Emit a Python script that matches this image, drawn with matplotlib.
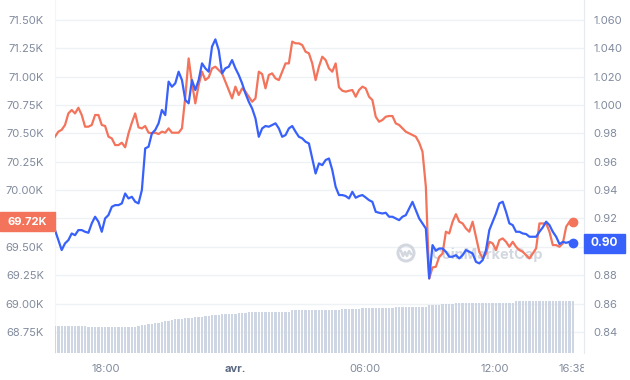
import matplotlib
matplotlib.use('Agg')
import numpy as np
import pandas as pd
import matplotlib.pyplot as plt
from matplotlib.patches import Rectangle, Ellipse

plt.rcParams['font.family'] = ['Inter', 'DejaVu Sans']

# ---- data (24h) ----
t_start = '2024-03-31 15:38'
t_end = '2024-04-01 15:38'

# price, left axis (USD)
price = [
    70471, 70515, 70532, 70574, 70676, 70706, 70676, 70726, 70662, 70559,
    70559, 70574, 70662, 70662, 70574, 70565, 70471, 70456, 70397, 70397,
    70418, 70377, 70500, 70594, 70676, 70553, 70544, 70565, 70506, 70500,
    70506, 70494, 70515, 70506, 70544, 70506, 70506, 70506, 70544, 70823,
    71161, 70941, 70765, 70926, 71044, 70970, 70994, 71073, 71088, 71059,
    71029, 70956, 70882, 70809, 70912, 70838, 70897, 70868, 70823, 70779,
    70809, 71044, 71023, 70897, 71015, 71029, 70985, 70970, 71044, 71117,
    71117, 71309, 71294, 71294, 71279, 71220, 71206,
    71117, 70970, 71088, 71176, 71147, 71073, 71044, 71117, 70906, 70876,
    70868, 70876, 70882, 70823, 70882, 70912, 70897, 70823, 70794, 70647,
    70603, 70618, 70647, 70653, 70653, 70588, 70574, 70544, 70515, 70500,
    70485, 70471, 70418, 70338, 70030, 69221, 69318, 69324, 69412, 69441,
    69633, 69618, 69721, 69788, 69721, 69706, 69662, 69633, 69721, 69588,
    69456, 69397, 69441, 69544, 69530, 69471, 69559, 69574, 69544, 69500,
    69544, 69500, 69471, 69456, 69427, 69397, 69441, 69486, 69706, 69706,
    69706, 69633, 69515, 69515, 69500, 69530, 69677, 69721, 69720,
]

# second series, right axis
compare = [
    0.9118, 0.9047, 0.8977, 0.9024, 0.9047, 0.9094, 0.9082, 0.9118, 0.9118, 0.9106,
    0.9099, 0.9165, 0.9212, 0.9177, 0.9106, 0.9200, 0.9224, 0.9282, 0.9294, 0.9294,
    0.9306, 0.9376, 0.9341, 0.9353, 0.9318, 0.9306,
    0.9400, 0.9694, 0.9706, 0.9800, 0.9824, 0.9871, 0.9965, 0.9929, 1.0165, 1.0129,
    1.0153, 1.0235, 1.0176, 1.0035, 1.0012, 1.0176, 1.0106, 1.0176, 1.0294, 1.0259,
    1.0235, 1.0412, 1.0463, 1.0388, 1.0223, 1.0259, 1.0270, 1.0317, 1.0259, 1.0212,
    1.0153, 1.0082, 1.0023, 0.9976, 0.9906, 0.9776, 0.9835, 0.9852, 0.9847, 0.9859,
    0.9871, 0.9835, 0.9776, 0.9788, 0.9835, 0.9852, 0.9812, 0.9776, 0.9765, 0.9741,
    0.9729,
    0.9623, 0.9517, 0.9588, 0.9576, 0.9612, 0.9623, 0.9541, 0.9423, 0.9365, 0.9365,
    0.9358, 0.9341, 0.9388, 0.9346, 0.9358, 0.9365, 0.9348, 0.9329, 0.9317, 0.9247,
    0.9240, 0.9235, 0.9240, 0.9212, 0.9212, 0.9200, 0.9188, 0.9212, 0.9223, 0.9270,
    0.9317, 0.9259, 0.9200, 0.9165, 0.9129, 0.8777, 0.9012, 0.8972, 0.8988, 0.8988,
    0.8965, 0.8930, 0.8930, 0.8941, 0.8918, 0.8941, 0.8977, 0.8965, 0.8953, 0.8894,
    0.8883, 0.8906, 0.8977, 0.9118, 0.9177, 0.9235, 0.9306, 0.9318, 0.9247, 0.9165,
    0.9153, 0.9106, 0.9106, 0.9094, 0.9090, 0.9071, 0.9071, 0.9071, 0.9106, 0.9137,
    0.9177, 0.9153, 0.9106, 0.9071, 0.9019, 0.9035, 0.9028, 0.9035, 0.9024,
]

# volume (B)
volume = [
    10.05, 10.05, 10.05, 10.05, 10.05, 10.05, 10.05, 10.05, 10.05, 10.05,
    9.57, 9.57, 9.57, 9.57, 9.57, 9.57, 9.57, 9.57, 9.57, 9.57,
    9.57, 9.57, 9.86, 9.86, 9.86, 10.05, 10.23, 10.41, 10.60, 10.89,
    11.15, 11.33, 11.52, 11.78, 12.00, 12.36, 12.51, 12.70, 12.77, 12.92,
    12.99, 13.17, 13.36, 13.43, 13.54, 13.73, 13.73, 13.91, 14.09, 14.09,
    14.28, 14.28, 14.54, 14.54, 14.54, 14.83, 14.83, 14.83, 15.02, 15.02,
    15.02, 15.20, 15.20, 15.20, 15.20, 15.20, 15.38, 15.38, 15.38, 15.38,
    15.38, 15.75, 15.75, 15.75, 15.75, 15.75, 15.75, 15.75, 15.93, 15.93,
    15.93, 15.93, 15.93, 15.93, 15.93, 15.93, 16.30, 16.30, 16.30, 16.30,
    16.30, 16.30, 16.67, 16.67, 16.67, 16.67, 16.67, 16.67, 16.85, 16.85,
    16.85, 16.85, 17.04, 17.04, 17.04, 17.04, 17.15, 17.15, 17.15, 17.15,
    17.15, 17.15, 17.77, 17.77, 17.77, 17.77, 17.96, 17.96, 17.96, 17.96,
    18.40, 18.40, 18.40, 18.40, 18.40, 18.40, 18.51, 18.51, 18.51, 18.51,
    18.51, 18.62, 18.62, 18.62, 18.62, 18.62, 18.62, 18.62, 19.25, 19.25,
    19.25, 19.25, 19.25, 19.25, 19.25, 19.25, 19.25, 19.25, 19.25, 19.25,
    19.25, 19.25, 19.25, 19.25, 19.25, 19.25,
]

price_ticks = [68750, 69000, 69250, 69500, 69750, 70000, 70250, 70500, 70750, 71000, 71250, 71500]
compare_ticks = [0.84, 0.86, 0.88, 0.90, 0.92, 0.94, 0.96, 0.98, 1.00, 1.02, 1.04, 1.06]
x_tick_times = ['2024-03-31 18:00', '2024-04-01 00:00', '2024-04-01 06:00', '2024-04-01 12:00', t_end]
x_tick_labels = ['18:00', 'avr.', '06:00', '12:00', '16:38']

ORANGE = '#f3735b'
BLUE = '#3861fb'
GRID = '#eff2f5'
LABEL = '#808a9d'

times = pd.date_range(t_start, t_end, periods=len(price))

W, H = 630, 380
fig = plt.figure(figsize=(W / 100, H / 100), dpi=100)
ax = fig.add_axes([55 / W, 26.7 / H, 529 / W, 353.3 / H])
ax_v = ax.twinx()
ax_b = ax.twinx()
ax.set_zorder(1)
ax_v.set_zorder(2)
ax_b.set_zorder(3)
ax_v.patch.set_visible(False)
ax_b.patch.set_visible(False)

# volume bars
step = (times[1] - times[0])
ax_v.bar(times, volume, width=step * 0.7, color='#cfd6e3', linewidth=0)
ax_v.set_ylim(0, 130)
ax_v.yaxis.set_visible(False)

# lines
ax.plot(times, price, color=ORANGE, lw=1.6, zorder=3, solid_joinstyle='round')
ax.plot(times[-1], price[-1], 'o', ms=6, color=ORANGE, zorder=4)
ax_b.plot(times, compare, color=BLUE, lw=1.6, zorder=3, solid_joinstyle='round')
ax_b.plot(times[-1], compare[-1], 'o', ms=6, color=BLUE, zorder=4)

ax.set_xlim(times[0], pd.Timestamp(t_end) + pd.Timedelta(minutes=31))
ax.set_ylim(68561, 71676)
ax_b.set_ylim(0.82488, 1.07408)

# tick labels that sit under the last-value boxes are left blank (covered in the original)
last_p = f'{price[-1] / 1000:.2f}K'
last_c = f'{compare[-1]:.2f}'
p_labels = [f'{v / 1000:.2f}K' for v in price_ticks]
p_labels = ['' if abs(v - price[-1]) < 125 else s for v, s in zip(price_ticks, p_labels)]
c_labels = [f'{v:.3f}' if v >= 1 else f'{v:.2f}' for v in compare_ticks]
c_labels = ['' if abs(v - compare[-1]) < 0.01 else s for v, s in zip(compare_ticks, c_labels)]

ax.set_yticks(price_ticks)
ax.set_yticklabels(p_labels)
ax_b.set_yticks(compare_ticks)
ax_b.set_yticklabels(c_labels)
ax.tick_params(axis='y', length=0, pad=8, labelsize=8, labelcolor=LABEL)
ax_b.tick_params(axis='y', length=0, pad=6.5, labelsize=8, labelcolor=LABEL)

ax.set_xticks(pd.to_datetime(x_tick_times))
ax.set_xticklabels(x_tick_labels)
ax.tick_params(axis='x', length=0, pad=8, labelsize=8, labelcolor=LABEL)
for lbl in ax.get_xticklabels():
    if lbl.get_text() == 'avr.':
        lbl.set_fontweight('bold')
        lbl.set_color('#58667e')

ax.grid(axis='y', color=GRID, lw=1)
ax.set_axisbelow(True)

for a in (ax, ax_v, ax_b):
    for s in a.spines.values():
        s.set_visible(False)
ax.spines['left'].set_visible(True)
ax.spines['left'].set_color('#f3f5f8')
ax_b.spines['right'].set_visible(True)
ax_b.spines['right'].set_color('#e6e9ee')

# watermark
wm = '#c9ced8'
ax.add_patch(Ellipse((406 / W, 1 - 253 / H), 16 / W, 16 / H, transform=fig.transFigure,
                     fill=False, ec=wm, lw=2.2, alpha=0.8, zorder=1))
mx = np.array([-5, -3, -1, 1, 3, 5]) + 406
my = np.array([-2, 3, -1, 3, -2, 1]) + 253
ax.plot(mx / W, 1 - my / H, color=wm, lw=1.8, alpha=0.8, transform=fig.transFigure, zorder=1)
ax.text(431 / W, 1 - 255 / H, 'CoinMarketCap', transform=fig.transFigure, ha='left', va='center',
        fontsize=10.5, fontweight='bold', color=wm, alpha=0.8, zorder=1)

# last-value labels
y_o = ax.transData.transform((0, price[-1]))[1]
fig.add_artist(Rectangle((0, (y_o - 9.5) / H), 55 / W, 19 / H, transform=fig.transFigure,
                         color=ORANGE, zorder=5))
fig.text(27.5 / W, y_o / H, last_p, ha='center', va='center',
         color='white', fontweight='bold', fontsize=8, zorder=6)
y_b = ax_b.transData.transform((0, compare[-1]))[1]
fig.add_artist(Rectangle((584 / W, (y_b - 9.2) / H), 41 / W, 18.4 / H, transform=fig.transFigure,
                         color=BLUE, zorder=5))
fig.text(604.5 / W, y_b / H, last_c, ha='center', va='center',
         color='white', fontweight='bold', fontsize=8.5, zorder=6)

# right panel hides the end of the last time label
fig.add_artist(Rectangle((584 / W, 0), 1 - 584 / W, 24 / H, transform=fig.transFigure,
                         color='white', zorder=5))

fig.savefig('out.png', dpi=100)
